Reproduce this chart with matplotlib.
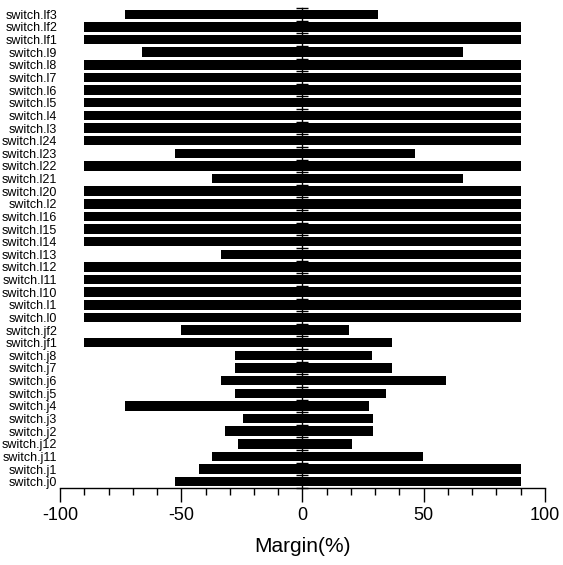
import numpy as np
import matplotlib.pyplot as plt

plt.rcParams['font.family'] = ['Liberation Sans', 'DejaVu Sans']
plt.rcParams['axes.unicode_minus'] = False

# categories, top to bottom
labels = ['switch.lf3', 'switch.lf2', 'switch.lf1', 'switch.l9', 'switch.l8',
          'switch.l7', 'switch.l6', 'switch.l5', 'switch.l4', 'switch.l3',
          'switch.l24', 'switch.l23', 'switch.l22', 'switch.l21', 'switch.l20',
          'switch.l2', 'switch.l16', 'switch.l15', 'switch.l14', 'switch.l13',
          'switch.l12', 'switch.l11', 'switch.l10', 'switch.l1', 'switch.l0',
          'switch.jf2', 'switch.jf1', 'switch.j8', 'switch.j7', 'switch.j6',
          'switch.j5', 'switch.j4', 'switch.j3', 'switch.j2', 'switch.j12',
          'switch.j11', 'switch.j1', 'switch.j0']
low = [-73, -90, -90, -66, -90,
       -90, -90, -90, -90, -90,
       -90, -52.5, -90, -37.5, -90,
       -90, -90, -90, -90, -33.5,
       -90, -90, -90, -90, -90,
       -50, -90, -28, -28, -33.5,
       -28, -73, -24.5, -32, -26.5,
       -37.5, -42.5, -52.5]
high = [31, 90, 90, 66, 90,
        90, 90, 90, 90, 90,
        90, 46.5, 90, 66, 90,
        90, 90, 90, 90, 90,
        90, 90, 90, 90, 90,
        19, 37, 28.5, 37, 59,
        34.5, 27.5, 29, 29, 20.5,
        49.5, 90, 90]

low = np.array(low)
high = np.array(high)
n = len(labels)
y = np.arange(n)

fig = plt.figure(figsize=(5.63, 5.65), dpi=100)
ax = fig.add_axes([0.1066, 0.1363, 0.8614, 0.8495])

ax.barh(y, high - low, left=low, height=0.75, color='black')

# vertical zero line with a tick between each category
bounds = np.arange(n + 1) - 0.5
ax.plot(np.zeros(n + 1), bounds, color='black', lw=1, marker='_', ms=9,
        mew=1, clip_on=False)

ax.set_xlim(-100, 100)
ax.set_ylim(n - 0.5, -0.5)
ax.set_xticks([-100, -50, 0, 50, 100])
ax.set_xticks(np.arange(-100, 101, 10), minor=True)
ax.set_yticks(y)
ax.set_yticklabels(labels, fontsize=9)
ax.tick_params(axis='y', length=0, pad=2)
ax.tick_params(axis='x', which='major', length=10, width=1, labelsize=13, pad=4)
ax.tick_params(axis='x', which='minor', length=5, width=1)

for s in ['left', 'right', 'top']:
    ax.spines[s].set_visible(False)
ax.spines['bottom'].set_linewidth(1)

ax.set_xlabel('Margin(%)', fontsize=15, labelpad=9)

plt.savefig('out.png', dpi=100)
plt.close()
